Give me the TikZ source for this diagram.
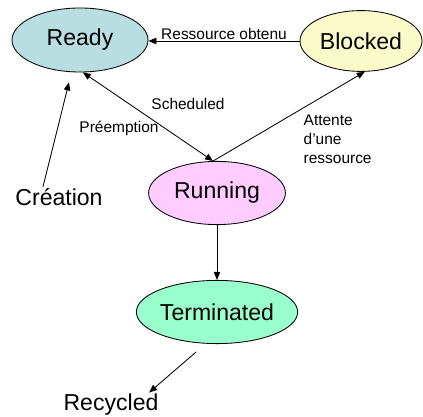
\documentclass[tikz,border=0pt]{standalone}
\usepackage{fontspec}
\setmainfont{Liberation Sans}
\usepackage{xcolor}
\usepackage{tikz}
\usetikzlibrary{arrows.meta,shapes.geometric}
\definecolor{stReady}{HTML}{B9DEE1}
\definecolor{stBlocked}{HTML}{FBFBC9}
\definecolor{stRunning}{HTML}{FFCCFF}
\definecolor{stTerminated}{HTML}{99FFCC}
\tikzset{
  st diagram/.style={font=\fontsize{16.4}{19}\selectfont,
    line cap=round, line join=round},
  st state/.style={ellipse, draw=black, line width=0.6pt, inner sep=0pt,
    minimum width=3.42cm, minimum height=1.58cm},
  st arrow/.style={>={Triangle[length=2mm,width=1.6mm]}, ->, line width=0.6pt},
  st label/.style={font=\fontsize{11}{13.5}\selectfont, inner sep=1pt, align=left},
  st text/.style={inner sep=1pt}
}

\begin{document}
\begin{tikzpicture}[st diagram]
\useasboundingbox (0,0) rectangle (10.575,10.4);
% states
\node[st state, fill=stReady, minimum width=3.4cm, minimum height=1.6cm] (ready) at (2.0,9.4) {Ready};
\node[st state, fill=stBlocked, minimum width=3.05cm, minimum height=1.52cm] (blocked) at (9.025,9.375) {Blocked};
\node[st state, fill=stRunning] (running) at (5.425,5.575) {Running};
\node[st state, fill=stTerminated] (terminated) at (5.425,2.6) {Terminated};
\node[st text] (creation) at (1.475,5.475) {Création};
\node[st text] (recycled) at (2.775,0.275) {Recycled};
% transitions
\draw[st arrow] (blocked.west) -- (blocked.west -| ready.east)
  node[st label, midway, above] (lblobtenu) {Ressource obtenu};
\draw[st arrow, <->] (running.97) -- (ready.-85);
\draw[st arrow] (running.97) -- (blocked.-83);
\draw[st arrow] ([xshift=-0.4cm]creation.north) -- ([xshift=-0.275cm,yshift=-0.25cm]ready.south);
\draw[st arrow] (running) -- (terminated);
\draw[st arrow] ([xshift=-0.525cm,yshift=-0.2cm]terminated.south) -- ([xshift=-0.275cm]recycled.north east);
% labels
\node[st label] (lblsched) at (4.7,7.8) {Scheduled};
\node[st label] (lblpreempt) at (2.975,7.2) {Préemption};
\node[st label, anchor=west] (lblattente) at (7.55,6.925) {Attente\\d’une\\ressource};
\end{tikzpicture}
\end{document}
